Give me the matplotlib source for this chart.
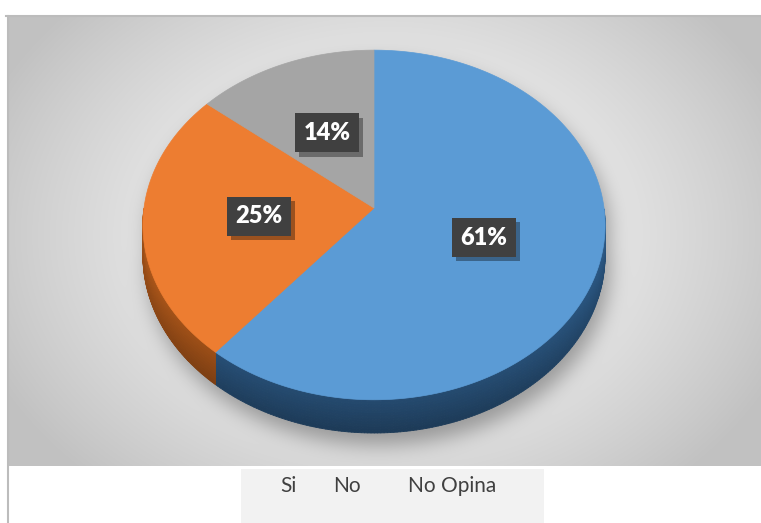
import numpy as np
import matplotlib.pyplot as plt
import matplotlib.patheffects as pe
from matplotlib.path import Path
from matplotlib.collections import PolyCollection
from matplotlib.patches import Polygon, Rectangle
from matplotlib.colors import to_rgb

# data
labels = ["Si", "No", "No Opina"]
values = [61, 25, 14]
top_colors = ["#5b9bd5", "#ed7d31", "#a5a5a5"]
side_colors = ["#2f5f8e", "#bb5e1c", "#7b7b7b"]

plt.rcParams["font.family"] = ["Lato", "DejaVu Sans"]

W, H = 761, 523
fig = plt.figure(figsize=(W / 100, H / 100), dpi=100)
ax = fig.add_axes([0, 0, 1, 1])
ax.set_xlim(0, W)
ax.set_ylim(H, 0)
ax.axis("off")

# plot area in pixels
PX0, PY0, PX1, PY1 = 8, 16, 761, 466

# 3d pie projection (simple perspective, front = +v)
CX, R = 374, 230
A, B, C = 153.0, 208.0, -0.097
DEPTH = 30.0


def proj(u, v, drop=0.0):
    d = 1 + C * v
    return CX + R * u / d, (A * v + B + drop) / d


# ---- background gradient + soft shadow under the pie ----
yy, xx = np.mgrid[PY0:PY1, PX0:PX1] + 0.5
t = np.clip(np.sqrt(((xx - 385) / 430) ** 2 + ((yy - 235) / 330) ** 2), 0, 1)
light = np.array([0.965, 0.965, 0.965])
dark = np.array([0.76, 0.76, 0.76])
img = light + (dark - light) * (t ** 1.6)[..., None]

th_back = np.radians(np.linspace(0, 180, 200))
th_front = np.radians(np.linspace(180, 360, 200))
sil = [proj(np.cos(a), -np.sin(a)) for a in th_back]
sil += [proj(np.cos(a), -np.sin(a), DEPTH) for a in th_front]
sil_path = Path(np.array(sil))
pts = np.column_stack([(xx - 5).ravel(), (yy - 12).ravel()])
mask = sil_path.contains_points(pts).reshape(xx.shape).astype(float)

k = np.arange(-30, 31)
kern = np.exp(-k ** 2 / (2 * 10.0 ** 2))
kern /= kern.sum()
blur = np.apply_along_axis(lambda r: np.convolve(r, kern, mode="same"), 1, mask)
blur = np.apply_along_axis(lambda c: np.convolve(c, kern, mode="same"), 0, blur)
img = img * (1 - 0.32 * blur[..., None])

ax.imshow(img, extent=(PX0, PX1, PY1, PY0), interpolation="bilinear", zorder=0)

# chart frame
ax.plot([6, W], [16, 16], color="#bcbcbc", lw=1.5, zorder=1)
ax.plot([7.5, 7.5], [16, H], color="#bcbcbc", lw=1.5, zorder=1)

# ---- pie ----
fracs = np.array(values, dtype=float) / sum(values)
starts = 90 - 360 * np.concatenate([[0], np.cumsum(fracs)[:-1]])
ends = starts - 360 * fracs

# sides first
quads, qcolors = [], []
m = 12
for s, e, col in zip(starts, ends, side_colors):
    base = np.array(to_rgb(col))
    th = np.radians(np.linspace(s, e, 300))
    for a0, a1 in zip(th[:-1], th[1:]):
        if np.sin(a0) > 1e-9 or np.sin(a1) > 1e-9:
            continue
        front = -np.sin(0.5 * (a0 + a1))
        for j in range(m):
            d0, d1 = DEPTH * j / m, DEPTH * (j + 1) / m
            p = [proj(np.cos(a0), -np.sin(a0), d0), proj(np.cos(a1), -np.sin(a1), d0),
                 proj(np.cos(a1), -np.sin(a1), d1), proj(np.cos(a0), -np.sin(a0), d1)]
            shade = 1.0 - 0.22 * front - 0.16 * (j / (m - 1))
            quads.append(p)
            qcolors.append(np.clip(base * shade, 0, 1))
ax.add_collection(PolyCollection(quads, facecolors=qcolors, edgecolors=qcolors,
                                 linewidths=0.6, zorder=2))

# top faces
for s, e, col in zip(starts, ends, top_colors):
    th = np.radians(np.linspace(s, e, 300))
    poly = [proj(0, 0)] + [proj(np.cos(a), -np.sin(a)) for a in th]
    ax.add_patch(Polygon(poly, closed=True, fc=col, ec=col, lw=0.5, zorder=3))

# data labels in dark boxes with a drop shadow
for s, e, v in zip(starts, ends, values):
    a = np.radians(0.5 * (s + e))
    x, y = proj(0.5 * np.cos(a), -0.5 * np.sin(a))
    txt = ax.text(x, y, f"{v}%", ha="center", va="center", fontsize=17,
                  fontweight="heavy", color="white", zorder=5,
                  bbox=dict(boxstyle="square,pad=0.36", fc="#404040", ec="none"))
    txt.get_bbox_patch().set_path_effects([
        pe.SimplePatchShadow(offset=(3, -3), shadow_rgbFace="black", alpha=0.35),
        pe.Normal()])

# legend
ax.add_patch(Rectangle((241, 469), 303, 54, fc="#f2f2f2", ec="none", zorder=1))
for lx, lab in zip([280, 333, 408], labels):
    ax.text(lx, 486, lab, ha="left", va="center", fontsize=15, color="#404040", zorder=2)

fig.savefig("out.png", dpi=100)
